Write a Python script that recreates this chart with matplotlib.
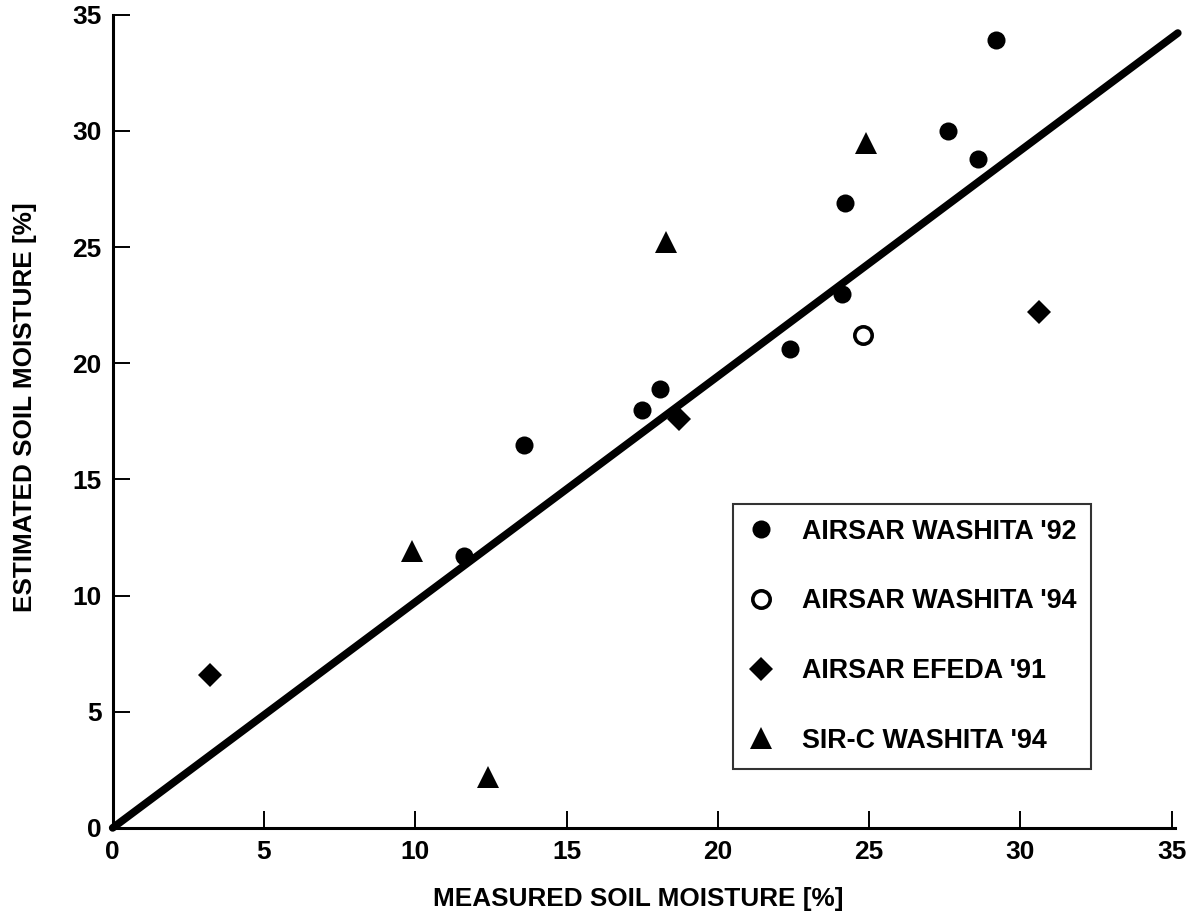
import matplotlib

matplotlib.use("Agg")

import matplotlib.pyplot as plt
import numpy as np

# Values (percent soil moisture).
washita92_measured = [11.6, 13.6, 17.5, 18.1, 22.4, 24.1, 24.2, 27.6, 28.6, 29.2]
washita92_estimated = [11.7, 16.5, 18.0, 18.9, 20.6, 23.0, 26.9, 30.0, 28.8, 33.9]

washita94_measured = [24.8]
washita94_estimated = [21.2]

efeda91_measured = [3.2, 18.7, 30.6]
efeda91_estimated = [6.6, 17.6, 22.2]

sirc94_measured = [9.9, 12.4, 18.3, 24.9]
sirc94_estimated = [11.9, 2.2, 25.2, 29.5]

fit_slope = 0.972
fit_x = [0.0, 35.2]

tick_values = [0, 5, 10, 15, 20, 25, 30, 35]

plt.rcParams["font.family"] = ["Liberation Sans", "DejaVu Sans"]
plt.rcParams["font.weight"] = "bold"

fig = plt.figure(figsize=(11.86, 9.24), dpi=100)
ax = fig.add_axes([0.095, 0.104, 0.893, 0.88])

# Regression line through the origin, drawn first so the markers sit on top.
ax.plot(fit_x, [fit_slope * value for value in fit_x], color="black", linewidth=5.5,
        solid_capstyle="round", clip_on=False, zorder=2)

ax.plot(washita92_measured, washita92_estimated, linestyle="none", marker="o",
        markersize=13, markerfacecolor="black", markeredgewidth=0, clip_on=False,
        zorder=3, label="AIRSAR WASHITA '92")
ax.plot(washita94_measured, washita94_estimated, linestyle="none", marker="o",
        markersize=12.5, markerfacecolor="white", markeredgecolor="black",
        markeredgewidth=2.6, zorder=3, label="AIRSAR WASHITA '94")
ax.plot(efeda91_measured, efeda91_estimated, linestyle="none", marker="D",
        markersize=12.5, markerfacecolor="black", markeredgewidth=0, zorder=3,
        label="AIRSAR EFEDA '91")
ax.plot(sirc94_measured, sirc94_estimated, linestyle="none", marker="^",
        markersize=16.5, markerfacecolor="black", markeredgewidth=0, zorder=3,
        label="SIR-C WASHITA '94")

ax.set_xlim(0, 35)
ax.set_ylim(0, 35)
ax.set_xticks(tick_values)
ax.set_yticks(tick_values)

for side in ("top", "right"):
    ax.spines[side].set_visible(False)
for side in ("left", "bottom"):
    ax.spines[side].set_linewidth(2.2)
ax.spines["bottom"].set_bounds(0, 35.1)

ax.tick_params(axis="both", direction="in", length=12, width=1.4, labelsize=19)
ax.tick_params(axis="x", pad=9)
ax.tick_params(axis="y", pad=8)
for label in ax.get_xticklabels() + ax.get_yticklabels():
    label.set_fontweight("bold")

ax.set_xlabel("MEASURED SOIL MOISTURE [%]", fontsize=18.8, fontweight="bold")
ax.set_ylabel("ESTIMATED SOIL MOISTURE [%]", fontsize=18.8, fontweight="bold")
ax.xaxis.set_label_coords(0.496, -0.073)
ax.yaxis.set_label_coords(-0.071, 0.518)

legend = ax.legend(loc="upper left", bbox_to_anchor=(733 / 1186, 1 - 504 / 924),
                   bbox_transform=fig.transFigure, fontsize=19.4, frameon=True,
                   fancybox=False, edgecolor="black", borderpad=0.55, labelspacing=1.62,
                   handlelength=1.0, handletextpad=1.0, borderaxespad=0, numpoints=1)
legend.get_frame().set_linewidth(1.5)
for text in legend.get_texts():
    text.set_fontweight("bold")

fig.savefig("out.png", dpi=100)
